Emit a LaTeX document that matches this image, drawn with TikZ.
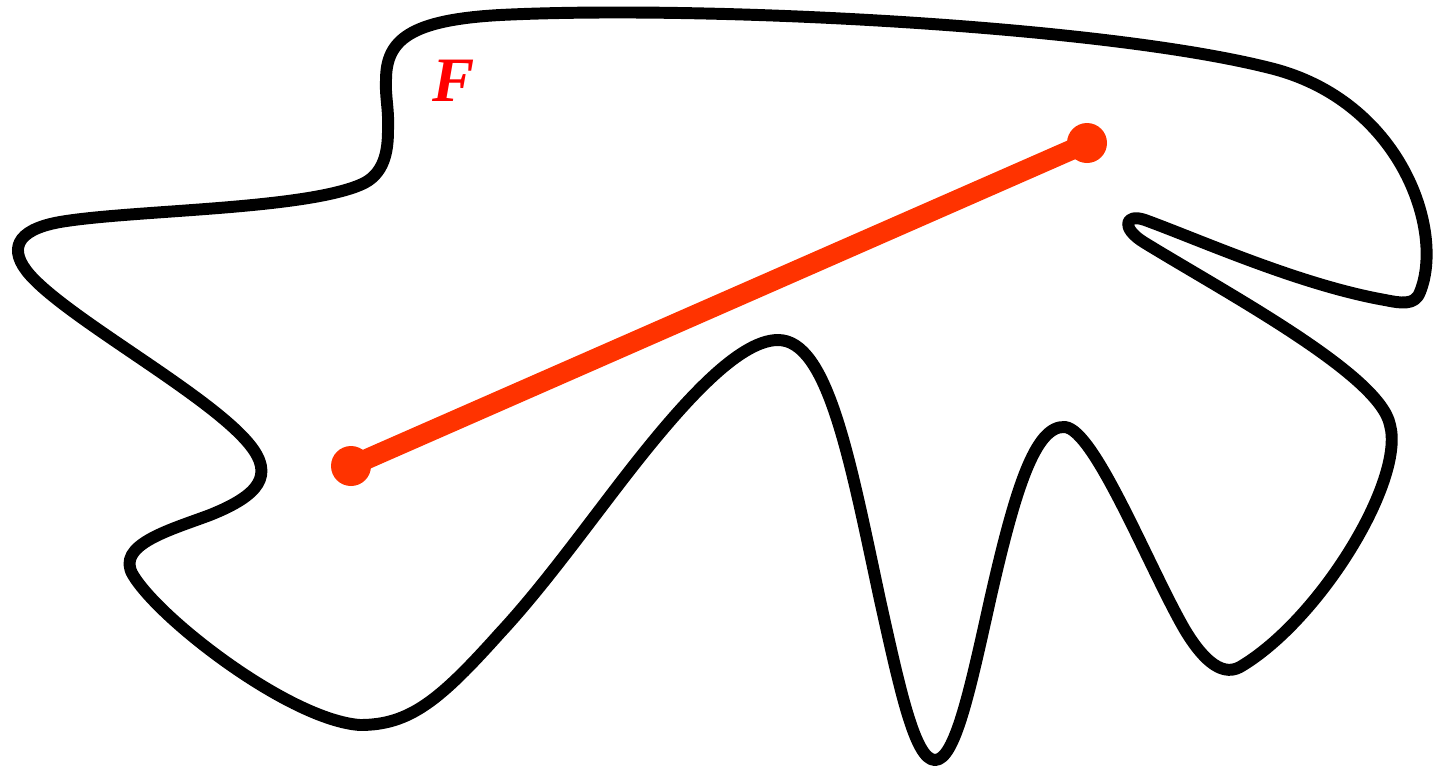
\documentclass[tikz,border=0pt]{standalone}
\usepackage{fontspec}
\setmainfont{Liberation Serif}
\definecolor{segred}{RGB}{255,51,0}
\definecolor{labred}{RGB}{255,0,0}
\tikzset{
  outline/.style={line width=6.8pt, black, line join=round},
  segment/.style={line width=11.5pt, segred},
  enddot/.style={circle, fill=segred, inner sep=0pt, minimum size=0.8cm},
  lab/.style={text=labred, font=\fontsize{36}{36}\selectfont\bfseries\itshape, inner sep=0pt}
}
\begin{document}
\begin{tikzpicture}[x=0.02cm,y=-0.02cm]
\useasboundingbox (0,0) rectangle (1439,769);
\draw[outline]
(388,130) .. controls (389,110) and (385,95) .. (386,80)
.. controls (386,40) and (410,20) .. (500,15)
.. controls (700,5) and (1100,25) .. (1270,68)
.. controls (1400,100) and (1445,230) .. (1420,292)
.. controls (1415,306) and (1400,303) .. (1385,300)
.. controls (1300,285) and (1200,240) .. (1145,220)
.. controls (1125,213) and (1120,228) .. (1145,243)
.. controls (1230,295) and (1380,375) .. (1390,425)
.. controls (1405,480) and (1320,620) .. (1240,667)
.. controls (1220,678) and (1200,655) .. (1185,630)
.. controls (1150,570) and (1095,430) .. (1065,427)
.. controls (1035,425) and (1015,490) .. (990,600)
.. controls (970,690) and (955,760) .. (935,760)
.. controls (915,760) and (900,690) .. (880,600)
.. controls (850,460) and (828,340) .. (778,340)
.. controls (738,340) and (680,405) .. (620,483)
.. controls (580,535) and (540,590) .. (500,633)
.. controls (440,700) and (410,725) .. (360,725)
.. controls (290,720) and (160,620) .. (133,575)
.. controls (115,545) and (170,530) .. (210,515)
.. controls (260,495) and (274,475) .. (250,445)
.. controls (210,395) and (70,320) .. (30,275)
.. controls (8,250) and (15,230) .. (60,222)
.. controls (130,210) and (300,210) .. (360,185)
.. controls (385,175) and (388,150) .. (388,130) -- cycle;
\node[enddot] (p) at (351,466) {};
\node[enddot] (q) at (1087,143) {};
\draw[segment] (p.center) -- (q.center);
\node[lab] (F) at (454,81) {F};
\end{tikzpicture}
\end{document}
